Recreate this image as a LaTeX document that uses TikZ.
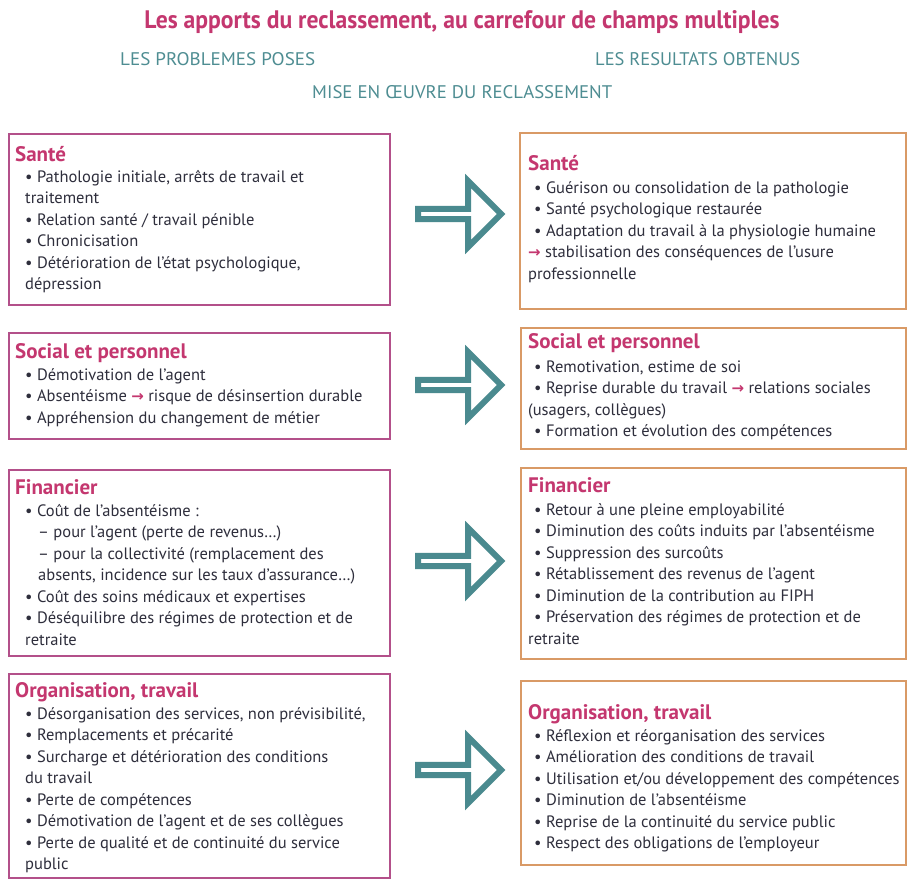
\documentclass[tikz,border=0pt]{standalone}
\usepackage{fontspec}
\usepackage{graphicx}
\setmainfont{PT Sans}
\newfontfamily\symfont{DejaVu Sans}
\usetikzlibrary{shapes.arrows}

\definecolor{pinkhead}{HTML}{C4376F}
\definecolor{tealtxt}{HTML}{4E8D92}
\definecolor{bodytxt}{HTML}{2E2E3C}
\definecolor{lborder}{HTML}{B3508A}
\definecolor{rborder}{HTML}{D99A66}
\definecolor{arrowteal}{HTML}{4A8A8F}

% small pink arrow used inside the running text
\newcommand{\pinkarrow}{{\symfont\bfseries\color{pinkhead}\fontsize{15}{15}\selectfont →}}

% one line of body text per entry: indent/{text}
\newcommand{\bodylines}[4]{%
  \foreach \dx/\txt [count=\k] in {#4}
    {\node[txtline, name=#1-\k] at (#2+\dx, #3+21.5*\k-21.5) {\txt};}}

\tikzset{
  problembox/.style={draw=lborder, line width=1.6pt, fill=white, anchor=north west, inner sep=0pt},
  resultbox/.style={draw=rborder, line width=1.6pt, fill=white, anchor=north west, inner sep=0pt},
  boxhead/.style={anchor=base west, inner sep=0pt, text=pinkhead,
    font=\fontsize{21}{23}\selectfont\bfseries},
  txtline/.style={anchor=base west, inner sep=0pt, text=bodytxt,
    font=\fontsize{16.5}{20}\selectfont},
  flow/.style={single arrow, draw=arrowteal, line width=6pt, fill=white,
    minimum height=83pt, minimum width=66pt, single arrow head extend=16pt,
    single arrow tip angle=90, inner sep=0pt},
  banner/.style={inner sep=0pt},
}

\begin{document}
\begin{tikzpicture}[x=1pt, y=-1pt]
\useasboundingbox (0,0) rectangle (909,878);
\fill[white] (0,0) rectangle (909,878);

% titles
\node[banner, anchor=base] (title) at (462,28)
  {\resizebox{635pt}{18pt}{\color{pinkhead}\bfseries Les apports du reclassement, au carrefour de champs multiples}};
\node[banner, anchor=base west] (probl) at (120,65)
  {\resizebox{195pt}{13pt}{\color{tealtxt}LES PROBLEMES POSES}};
\node[banner, anchor=base west] (resul) at (595,65)
  {\resizebox{205pt}{13pt}{\color{tealtxt}LES RESULTATS OBTENUS}};
\node[banner, anchor=base west] (mise) at (312,98)
  {\resizebox{300pt}{13pt}{\color{tealtxt}MISE EN ŒUVRE DU RECLASSEMENT}};

% frames of the problems (left) and results (right)
\node[problembox, minimum width=381pt, minimum height=171pt] (l1) at (8,133) {};
\node[problembox, minimum width=381pt, minimum height=106pt] (l2) at (8,332) {};
\node[problembox, minimum width=381pt, minimum height=186pt] (l3) at (8,469) {};
\node[problembox, minimum width=381pt, minimum height=204pt] (l4) at (8,673) {};
\node[resultbox, minimum width=386pt, minimum height=176pt] (r1) at (519,132) {};
\node[resultbox, minimum width=385pt, minimum height=121pt] (r2) at (520,327) {};
\node[resultbox, minimum width=385pt, minimum height=191pt] (r3) at (520,467) {};
\node[resultbox, minimum width=385pt, minimum height=184pt] (r4) at (520,680) {};

% block arrows
\node[flow] (f1) at (457,214) {};
\node[flow] (f2) at (457,385) {};
\node[flow] (f3) at (457,561) {};
\node[flow] (f4) at (457,770) {};

% Santé
\node[boxhead] (lh1) at (15,161) {Santé};
\bodylines{lt1}{25}{182}{
  0/{• Pathologie initiale, arrêts de travail et},
  0/{traitement},
  0/{• Relation santé / travail pénible},
  0/{• Chronicisation},
  0/{• Détérioration de l'état psychologique,},
  0/{dépression}}
\node[boxhead] (rh1) at (528,170) {Santé};
\bodylines{rt1}{528}{193}{
  6/{• Guérison ou consolidation de la pathologie},
  6/{• Santé psychologique restaurée},
  6/{• Adaptation du travail à la physiologie humaine},
  0/{\pinkarrow\ stabilisation des conséquences de l'usure},
  0/{professionnelle}}

% Social et personnel
\node[boxhead] (lh2) at (15,358) {Social et personnel};
\bodylines{lt2}{25}{380}{
  0/{• Démotivation de l'agent},
  0/{• Absentéisme \pinkarrow\ risque de désinsertion durable},
  0/{• Appréhension du changement de métier}}
\node[boxhead] (rh2) at (528,348) {Social et personnel};
\bodylines{rt2}{528}{372}{
  6/{• Remotivation, estime de soi},
  6/{• Reprise durable du travail \pinkarrow\ relations sociales},
  0/{(usagers, collègues)},
  6/{• Formation et évolution des compétences}}

% Financier
\node[boxhead] (lh3) at (15,494) {Financier};
\bodylines{lt3}{25}{516}{
  0/{• Coût de l'absentéisme :},
  13/{– pour l'agent (perte de revenus…)},
  13/{– pour la collectivité (remplacement des},
  13/{absents, incidence sur les taux d'assurance…)},
  0/{• Coût des soins médicaux et expertises},
  0/{• Déséquilibre des régimes de protection et de},
  0/{retraite}}
\node[boxhead] (rh3) at (528,492) {Financier};
\bodylines{rt3}{528}{515}{
  6/{• Retour à une pleine employabilité},
  6/{• Diminution des coûts induits par l'absentéisme},
  6/{• Suppression des surcoûts},
  6/{• Rétablissement des revenus de l'agent},
  6/{• Diminution de la contribution au FIPH},
  6/{• Préservation des régimes de protection et de},
  0/{retraite}}

% Organisation, travail
\node[boxhead] (lh4) at (15,697) {Organisation, travail};
\bodylines{lt4}{25}{719}{
  0/{• Désorganisation des services, non prévisibilité,},
  0/{• Remplacements et précarité},
  0/{• Surcharge et détérioration des conditions},
  0/{du travail},
  0/{• Perte de compétences},
  0/{• Démotivation de l'agent et de ses collègues},
  0/{• Perte de qualité et de continuité du service},
  0/{public}}
\node[boxhead] (rh4) at (528,719) {Organisation, travail};
\bodylines{rt4}{528}{741}{
  6/{• Réflexion et réorganisation des services},
  6/{• Amélioration des conditions de travail},
  6/{• Utilisation et/ou développement des compétences},
  6/{• Diminution de l'absentéisme},
  6/{• Reprise de la continuité du service public},
  6/{• Respect des obligations de l'employeur}}
\end{tikzpicture}
\end{document}
